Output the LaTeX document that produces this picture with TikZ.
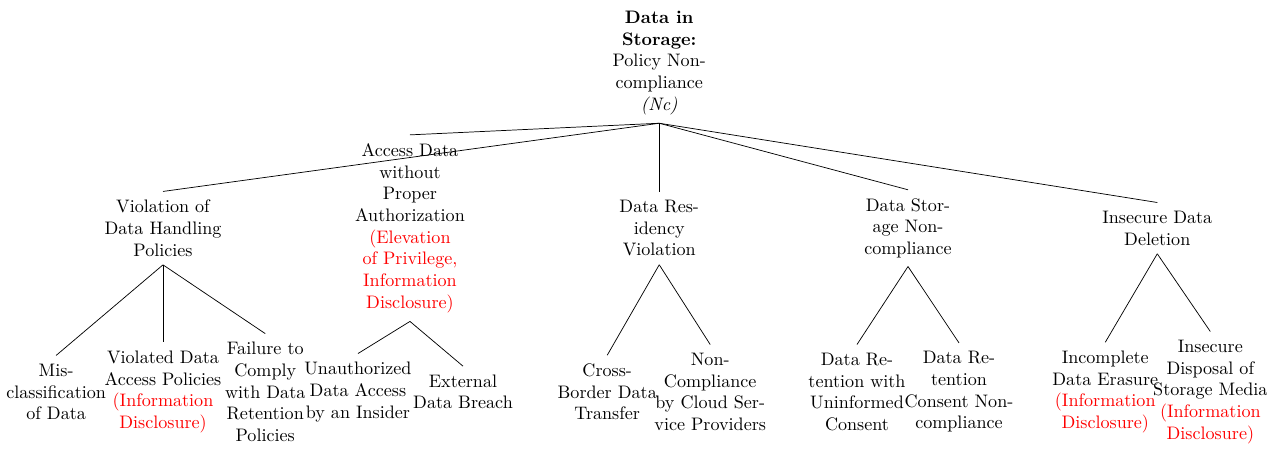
\documentclass[tikz,border=0pt]{standalone}
\usepackage{xcolor}
\usetikzlibrary{positioning}

\newcommand{\threat}[1]{\textcolor{red}{#1}}

\begin{document}
\begin{tikzpicture}[leaf/.style={align=center, inner xsep=3.33pt, inner ysep=4.5pt}]
\useasboundingbox (0,0) rectangle (24.95,8.70);

% root
\node[leaf] (root) at (12.80,7.48) {\textbf{Data in}\\\textbf{Storage:}\\Policy Non-\\compliance\\\textit{(Nc)}};

% first level
\node[leaf] (vdh) at (3.165,4.27) {Violation of\\Data Handling\\Policies};
\node[leaf] (adw) at (7.96,4.27) {Access Data\\without\\Proper\\Authorization\\\threat{(Elevation}\\\threat{of Privilege,}\\\threat{Information}\\\threat{Disclosure)}};
\node[leaf] (drv) at (12.80,4.27) {Data Res-\\idency\\Violation};
\node[leaf] (dsn) at (17.63,4.27) {Data Stor-\\age Non-\\compliance};
\node[leaf] (idd) at (22.47,4.27) {Insecure Data\\Deletion};

% second level
\node[leaf] (mis) at (1.09,1.09) {Mis-\\classification\\of Data};
\node[leaf] (vdap) at (3.165,1.09) {Violated Data\\Access Policies\\\threat{(Information}\\\threat{Disclosure)}};
\node[leaf] (fcr) at (5.15,1.09) {Failure to\\Comply\\with Data\\Retention\\Policies};
\node[leaf] (uda) at (6.95,1.09) {Unauthorized\\Data Access\\by an Insider};
\node[leaf] (edb) at (8.99,1.09) {External\\Data Breach};
\node[leaf] (cbt) at (11.79,1.09) {Cross-\\Border Data\\Transfer};
\node[leaf] (ncc) at (13.79,1.09) {Non-\\Compliance\\by Cloud Ser-\\vice Providers};
\node[leaf] (drw) at (16.64,1.09) {Data Re-\\tention with\\Uninformed\\Consent};
\node[leaf] (drc) at (18.62,1.09) {Data Re-\\tention\\Consent Non-\\compliance};
\node[leaf] (ide) at (21.46,1.09) {Incomplete\\Data Erasure\\\threat{(Information}\\\threat{Disclosure)}};
\node[leaf] (isd) at (23.50,1.09) {Insecure\\Disposal of\\Storage Media\\\threat{(Information}\\\threat{Disclosure)}};

% edges
\draw (root.south) -- (vdh.north);
\draw (root.south) -- (adw.north);
\draw (root.south) -- (drv.north);
\draw (root.south) -- (dsn.north);
\draw (root.south) -- (idd.north);

\draw (vdh.south) -- (mis.north);
\draw (vdh.south) -- (vdap.north);
\draw (vdh.south) -- (fcr.north);
\draw (adw.south) -- (uda.north);
\draw (adw.south) -- (edb.north);
\draw (drv.south) -- (cbt.north);
\draw (drv.south) -- (ncc.north);
\draw (dsn.south) -- (drw.north);
\draw (dsn.south) -- (drc.north);
\draw (idd.south) -- (ide.north);
\draw (idd.south) -- (isd.north);

\end{tikzpicture}
\end{document}
